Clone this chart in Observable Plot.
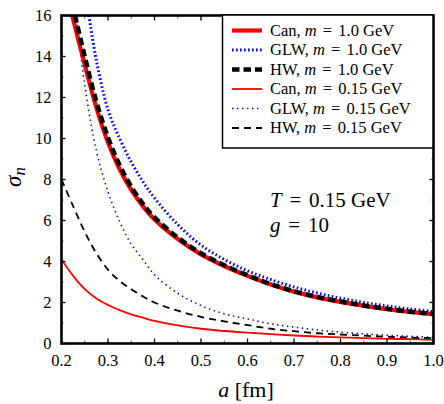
<!DOCTYPE html>
<html><head><meta charset="utf-8">
<script src="https://cdn.jsdelivr.net/npm/d3@7"></script>
<script src="https://cdn.jsdelivr.net/npm/@observablehq/plot@0.6"></script>
<style>
html,body{margin:0;padding:0;background:#fff;}
#chart{position:relative;width:444px;height:404px;}
#chart svg, #chart svg text, #chart svg tspan{font-family:"Liberation Serif", "DejaVu Serif", serif !important;}
</style></head><body><div id="chart"></div>
<script>
// ---- data ----
const aCan1  = [0.223,0.25,0.275,0.3,0.325,0.35,0.375,0.4,0.45,0.5,0.55,0.6,0.65,0.7,0.75,0.8,0.85,0.9,0.95,1.0];
const sCan1  = [16,13.6,11.5,9.8,8.5,7.5,6.7,6.05,5.1,4.35,3.78,3.3,2.88,2.53,2.25,2.03,1.84,1.67,1.54,1.43];
const aHW1   = [0.229,0.25,0.275,0.3,0.325,0.35,0.375,0.4,0.45,0.5,0.55,0.6,0.65,0.7,0.75,0.8,0.85,0.9,0.95,1.0];
const sHW1   = [16,14.0,11.8,10.05,8.7,7.65,6.82,6.15,5.17,4.4,3.82,3.33,2.9,2.55,2.27,2.05,1.85,1.69,1.55,1.44];
const aGLW1  = [0.259,0.275,0.3,0.325,0.35,0.375,0.4,0.45,0.5,0.55,0.6,0.65,0.7,0.75,0.8,0.85,0.9,0.95,1.0];
const sGLW1  = [16,13.8,11.4,10.0,8.85,7.9,7.1,5.8,4.8,4.1,3.55,3.12,2.76,2.46,2.21,2.0,1.83,1.68,1.56];
const aCan015 = [0.2,0.225,0.25,0.275,0.3,0.325,0.35,0.375,0.4,0.45,0.5,0.55,0.6,0.65,0.7,0.75,0.8,0.85,0.9,0.95,1.0];
const sCan015 = [4.1,3.3,2.65,2.2,1.88,1.63,1.42,1.26,1.1,0.88,0.72,0.61,0.53,0.46,0.39,0.34,0.3,0.26,0.23,0.21,0.18];
const aHW015  = [0.2,0.225,0.25,0.275,0.3,0.325,0.35,0.375,0.4,0.45,0.5,0.55,0.6,0.65,0.7,0.75,0.8,0.85,0.9,0.95,1.0];
const sHW015  = [8.0,6.7,5.45,4.4,3.6,3.05,2.65,2.3,2.0,1.6,1.3,1.08,0.9,0.72,0.6,0.5,0.44,0.38,0.33,0.29,0.26];
const aGLW015 = [0.232,0.25,0.275,0.3,0.325,0.35,0.375,0.4,0.45,0.5,0.55,0.6,0.65,0.7,0.75,0.8,0.85,0.9,0.95,1.0];
const sGLW015 = [16,12.6,9.4,7.4,5.95,4.85,4.1,3.35,2.45,1.85,1.45,1.2,0.96,0.8,0.66,0.55,0.47,0.4,0.35,0.3];

const xTicks = [0.2,0.3,0.4,0.5,0.6,0.7,0.8,0.9,1.0];
const xMinor = [0.25,0.35,0.45,0.55,0.65,0.75,0.85,0.95];
const yTicks = [0,2,4,6,8,10,12,14,16];
const yMinor = [1,3,5,7,9,11,13,15];

const legendModels = ["Can", "GLW", "HW", "Can", "GLW", "HW"];
const legendMasses = ["1.0", "1.0", "1.0", "0.15", "0.15", "0.15"];
const annotT = "0.15";
const annotG = "10";

// styles (not data)
const styles = [
  {stroke:"#ff0000", strokeWidth:4.2, dash:null},
  {stroke:"#0000ff", strokeWidth:3, dash:"1.6,2.4"},
  {stroke:"#000000", strokeWidth:4.5, dash:"7.5,4"},
  {stroke:"#ff0000", strokeWidth:1.8, dash:null},
  {stroke:"#0000ff", strokeWidth:1.6, dash:"1.4,3.6"},
  {stroke:"#000000", strokeWidth:1.8, dash:"7,5"}
];
const seriesData = [
  [aCan1,sCan1],[aGLW1,sGLW1],[aHW1,sHW1],[aCan015,sCan015],[aGLW015,sGLW015],[aHW015,sHW015]
].map(([a,s]) => a.map((x,i)=>({a:x, s:s[i]})));

const drawOrder = [3,4,5,0,1,2];
const lineMarks = drawOrder.map(k => Plot.line(seriesData[k], {
  x:"a", y:"s", stroke: styles[k].stroke, strokeWidth: styles[k].strokeWidth,
  strokeDasharray: styles[k].dash, strokeLinecap:"butt", curve:"catmull-rom", clip:true
}));

const font = "Liberation Serif, DejaVu Serif, serif";
const blank = () => "";

const plot = Plot.plot({
  width:444, height:404,
  marginLeft:61, marginRight:11, marginTop:15, marginBottom:61,
  style:{fontFamily:font, fontSize:"16.5px", color:"#000", background:"#fff"},
  x:{domain:[0.2,1.0], label:null},
  y:{domain:[0,16], label:null},
  marks:[
    ...lineMarks,
    Plot.axisX({ticks:xTicks, tickSize:0, tickPadding:11, tickFormat:d=>d.toFixed(1), label:null, fontSize:16.5}),
    Plot.axisY({ticks:yTicks, tickSize:0, tickPadding:10, tickFormat:d=>String(d), label:null, fontSize:16.5}),
    Plot.axisX({ticks:xTicks, tickSize:-4.5, tickFormat:blank, label:null, strokeWidth:1.3}),
    Plot.axisX({ticks:xMinor, tickSize:-2.5, tickFormat:blank, label:null, strokeWidth:1, stroke:"#555"}),
    Plot.axisX({anchor:"top", ticks:xTicks, tickSize:-4.5, tickFormat:blank, label:null, strokeWidth:1.3}),
    Plot.axisX({anchor:"top", ticks:xMinor, tickSize:-2.5, tickFormat:blank, label:null, strokeWidth:1, stroke:"#555"}),
    Plot.axisY({ticks:yTicks, tickSize:-4.5, tickFormat:blank, label:null, strokeWidth:1.3}),
    Plot.axisY({ticks:yMinor, tickSize:-2.5, tickFormat:blank, label:null, strokeWidth:1, stroke:"#555"}),
    Plot.axisY({anchor:"right", ticks:yTicks, tickSize:-4.5, tickFormat:blank, label:null, strokeWidth:1.3}),
    Plot.axisY({anchor:"right", ticks:yMinor, tickSize:-2.5, tickFormat:blank, label:null, strokeWidth:1, stroke:"#555"}),
    Plot.frame({stroke:"#000", strokeWidth:2.6})
  ]
});
document.getElementById("chart").appendChild(plot);

const svg = d3.select(plot);

// axis titles
const xt = svg.append("text").attr("x", 246).attr("y", 397).attr("text-anchor","middle")
  .attr("font-family", font).attr("font-size", 22).attr("fill","#000");
xt.append("tspan").attr("font-style","italic").text("a");
xt.append("tspan").text(" [fm]");

const yt = svg.append("text").attr("transform","translate(21,177) rotate(-90)").attr("text-anchor","middle")
  .attr("font-family", font).attr("font-size", 23).attr("fill","#000");
yt.append("tspan").attr("font-style","italic").text("σ");
yt.append("tspan").attr("font-style","italic").attr("font-size", 17).attr("dy", 4).text("n");

// equation-like text helper: italic variable, spaced "=", value
function eqText(sel, prefix, v, rest, size) {
  if (prefix) sel.append("tspan").text(prefix);
  sel.append("tspan").attr("font-style","italic").text(v);
  sel.append("tspan").attr("dx", size*0.12).text(" = ");
  sel.append("tspan").attr("dx", size*0.12).text(rest);
}

// annotation
[["T", annotT + " GeV", 206.5], ["g", annotG, 231.5]].forEach(([v, rest, y]) => {
  const t = svg.append("text").attr("x", 270).attr("y", y).attr("text-anchor","start")
    .attr("font-family", font).attr("font-size", 21).attr("fill","#000");
  eqText(t, null, v, rest, 21);
});

// legend box
const lg = svg.append("g");
lg.append("rect").attr("x", 222.5).attr("y", 15).attr("width", 210.5).attr("height", 133)
  .attr("fill","#fff").attr("stroke","#000").attr("stroke-width",1.5);
const rowY = [30.5, 50, 69.5, 89, 108.5, 128];
legendModels.forEach((name, i) => {
  const st = styles[i];
  lg.append("line").attr("x1", 232).attr("x2", 262).attr("y1", rowY[i]).attr("y2", rowY[i])
    .attr("stroke", st.stroke).attr("stroke-width", st.strokeWidth)
    .attr("stroke-dasharray", st.dash);
  const t = lg.append("text").attr("x", 270).attr("y", rowY[i]).attr("dy","0.33em")
    .attr("text-anchor","start").attr("font-family", font).attr("font-size", 16.5).attr("fill","#000");
  eqText(t, name + ", ", "m", legendMasses[i] + " GeV", 16.5);
});
</script></body></html>
